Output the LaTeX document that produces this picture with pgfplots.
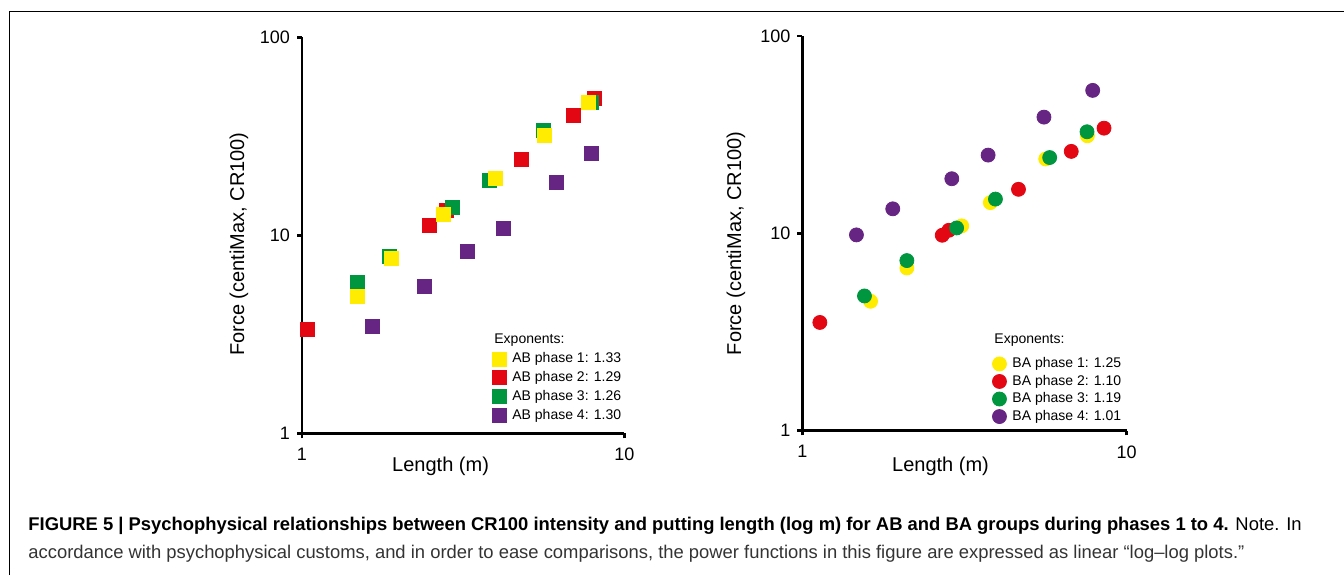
\documentclass[border=0pt]{standalone}
\usepackage{fontspec}
\setmainfont{Liberation Sans}
\usepackage{pgfplots}
\pgfplotsset{compat=1.18}

\definecolor{cyel}{HTML}{FFEC00}
\definecolor{cred}{HTML}{E30613}
\definecolor{cgrn}{HTML}{009640}
\definecolor{cpur}{HTML}{662483}

\begin{document}
\begin{tikzpicture}
\useasboundingbox (0pt,0pt) rectangle (672pt,287.5pt);
\draw[line width=0.5pt] (4.5pt,0pt) -- (4.5pt,282pt) -- (672pt,282pt);

% AB group
\begin{axis}[at={(151pt,70.85pt)}, anchor=south west,
  scale only axis, width=161.15pt, height=198pt,
  xmode=log, ymode=log,
  xmin=1, xmax=10, ymin=1, ymax=100,
  axis x line*=bottom, axis y line*=left,
  axis line style={line width=1.35pt, -},
  xtick={1,10}, xticklabels={1,10},
  ytick={1,10,100}, yticklabels={1,10,100},
  xminorticks=false, yminorticks=false,
  tick align=outside, major tick length=2.5pt,
  tick style={black, line width=1.35pt},
  ticklabel style={font=\fontsize{9}{10}\selectfont},
  xticklabel style={yshift=-1.5pt},
  label style={font=\fontsize{10}{12}\selectfont},
  xlabel={Length (m)}, ylabel={Force (centiMax, CR100)},
  clip=false,
  x label style={at={(axis description cs:0.43,-0.084)}, anchor=center},
  y label style={at={(axis description cs:-0.1955,0.478)}, anchor=center},
  legend cell align=left,
  legend style={draw=none, fill=none, font=\fontsize{7}{8}\selectfont,
    inner sep=0pt, anchor=north west, column sep=2.5pt,
    nodes={inner sep=0.5pt},
    at={(rel axis cs:0.5895,0.208)}, row sep=1.9pt}]
\addlegendimage{only marks, mark=square*, mark size=3.5pt, cyel}\addlegendentry{AB phase 1: 1.33}
\addlegendimage{only marks, mark=square*, mark size=3.5pt, cred}\addlegendentry{AB phase 2: 1.29}
\addlegendimage{only marks, mark=square*, mark size=3.5pt, cgrn}\addlegendentry{AB phase 3: 1.26}
\addlegendimage{only marks, mark=square*, mark size=3.5pt, cpur}\addlegendentry{AB phase 4: 1.30}
% phase 2
\addplot[only marks, mark=square*, mark size=3.5pt, cred, forget plot] coordinates {
  (1.037,3.35) (2.49,11.19) (2.80,13.4) (4.81,24.1) (6.96,40.4) (8.08,49.2)};
% phase 3
\addplot[only marks, mark=square*, mark size=3.5pt, cgrn, forget plot] coordinates {
  (1.486,5.79) (1.87,7.86) (2.92,13.85) (3.82,18.9) (5.62,33.8) (7.92,46.8)};
% phase 1
\addplot[only marks, mark=square*, mark size=3.5pt, cyel, forget plot] coordinates {
  (1.486,4.94) (1.897,7.62) (2.74,12.7) (3.99,19.3) (5.64,32.0) (7.74,47.1)};
% phase 4
\addplot[only marks, mark=square*, mark size=3.5pt, cpur, forget plot] coordinates {
  (1.651,3.46) (2.39,5.55) (3.25,8.27) (4.23,10.8) (6.14,18.5) (7.88,25.9)};
\node[anchor=west, inner sep=0pt, font=\fontsize{7}{8}\selectfont]
  at (rel axis cs:0.5957,0.2356) {Exponents:};
\end{axis}

% BA group
\begin{axis}[at={(401.2pt,72.25pt)}, anchor=south west,
  scale only axis, width=162.1pt, height=197.25pt,
  xmode=log, ymode=log,
  xmin=1, xmax=10, ymin=1, ymax=100,
  axis x line*=bottom, axis y line*=left,
  axis line style={line width=1.35pt, -},
  xtick={1,10}, xticklabels={1,10},
  ytick={1,10,100}, yticklabels={1,10,100},
  xminorticks=false, yminorticks=false,
  tick align=outside, major tick length=2.5pt,
  tick style={black, line width=1.35pt},
  ticklabel style={font=\fontsize{9}{10}\selectfont},
  xticklabel style={yshift=-1.5pt},
  label style={font=\fontsize{10}{12}\selectfont},
  xlabel={Length (m)}, ylabel={Force (centiMax, CR100)},
  clip=false,
  x label style={at={(axis description cs:0.426,-0.092)}, anchor=center},
  y label style={at={(axis description cs:-0.205,0.474)}, anchor=center},
  legend cell align=left,
  legend style={draw=none, fill=none, font=\fontsize{7}{8}\selectfont,
    inner sep=0pt, anchor=north west, column sep=2.5pt,
    nodes={inner sep=0.5pt},
    at={(rel axis cs:0.585,0.189)}, row sep=1.2pt}]
\addlegendimage{only marks, mark=*, mark size=3.5pt, cyel}\addlegendentry{BA phase 1: 1.25}
\addlegendimage{only marks, mark=*, mark size=3.5pt, cred}\addlegendentry{BA phase 2: 1.10}
\addlegendimage{only marks, mark=*, mark size=3.5pt, cgrn}\addlegendentry{BA phase 3: 1.19}
\addlegendimage{only marks, mark=*, mark size=3.5pt, cpur}\addlegendentry{BA phase 4: 1.01}
% phase 1
\addplot[only marks, mark=*, mark size=3.5pt, cyel, forget plot] coordinates {
  (1.623,4.52) (2.10,6.67) (3.10,10.9) (3.80,14.3) (5.63,23.8) (7.57,31.2)};
% phase 2
\addplot[only marks, mark=*, mark size=3.5pt, cred, forget plot] coordinates {
  (1.132,3.53) (2.70,9.77) (2.83,10.35) (4.64,16.7) (6.75,26.0) (8.52,34.1)};
% phase 3
\addplot[only marks, mark=*, mark size=3.5pt, cgrn, forget plot] coordinates {
  (1.554,4.81) (2.10,7.27) (2.99,10.64) (3.94,14.9) (5.79,24.2) (7.55,32.7)};
% phase 4
\addplot[only marks, mark=*, mark size=3.5pt, cpur, forget plot] coordinates {
  (1.468,9.81) (1.90,13.3) (2.89,18.9) (3.74,24.9) (5.56,38.8) (7.86,53.0)};
\node[anchor=west, inner sep=0pt, font=\fontsize{7}{8}\selectfont]
  at (rel axis cs:0.591,0.229) {Exponents:};
\end{axis}

% caption
\node[anchor=base west, inner sep=0pt, font=\fontsize{9.2}{11}\selectfont]
  at (14pt,22.5pt) {\textbf{FIGURE 5 | Psychophysical relationships between CR100 intensity and putting length (log m) for AB and BA groups during phases 1 to 4.} Note. In};
\node[anchor=base west, inner sep=0pt, font=\fontsize{9.2}{11}\selectfont, text=black!80]
  at (14pt,8.5pt) {accordance with psychophysical customs, and in order to ease comparisons, the power functions in this figure are expressed as linear “log–log plots.”};
\end{tikzpicture}
\end{document}
